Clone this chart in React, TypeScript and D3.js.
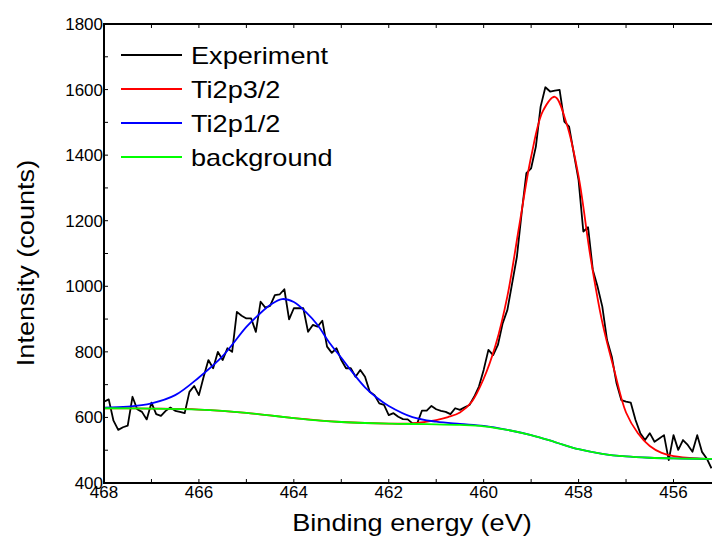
import React from "react";
import * as d3 from "d3";

// ---------- data ----------
const expStart = 468.0;
const expStep = -0.1;
const expCounts = [
  648, 655, 590, 562, 570, 575, 663, 625, 617, 594,
  645, 610, 605, 620, 630, 620, 617, 613, 678, 696,
  668, 724, 775, 750, 800, 775, 811, 800, 922, 910,
  902, 902, 861, 953, 935, 940, 973, 975, 991, 899,
  933, 933, 933, 861, 882, 877, 895, 816, 797, 811,
  775, 750, 750, 724, 745, 724, 678, 668, 643, 638,
  607, 613, 602, 595, 594, 582, 582, 621, 621, 635,
  625, 620, 617, 610, 628, 623, 631, 638, 663, 694,
  745, 806, 790, 821, 887, 928, 1009, 1090, 1223, 1345,
  1360, 1426, 1548, 1607, 1594, 1597, 1599, 1502, 1487, 1405,
  1324, 1167, 1180, 1050, 999, 938, 836, 785, 704, 653,
  648, 645, 592, 552, 531, 552, 526, 536, 546, 470,
  546, 501, 531, 516, 495, 546, 495, 475, 445,
];

const bgEnergy = [468, 467, 466, 465.5, 465, 464.5, 464, 463.5, 463, 462.5, 462, 461.5, 461, 460.5, 460, 459.5, 459, 458.5, 458, 457.5, 457, 456.5, 456, 455.5, 455];
const bgCounts = [628, 627, 624, 620, 614, 606, 598, 591, 586, 583, 581, 580, 579, 577, 573, 562, 546, 525, 503, 489, 481, 477, 475, 474, 473];

const p12Energy = [468, 467.5, 467, 466.5, 466, 465.5, 465, 464.75, 464.5, 464.25, 464, 463.75, 463.5, 463.25, 463, 462.75, 462.5, 462.25, 462, 461.5, 461, 460.5, 460, 459.5, 459, 458.5, 458, 457.5, 457, 456.5, 456, 455.5, 455];
const p12Counts = [630, 633, 643, 668, 722, 787, 876, 912, 943, 961, 952, 922, 882, 828, 782, 735, 692, 660, 635, 601, 587, 580, 574, 562, 546, 525, 503, 489, 481, 477, 475, 474, 473];

const p32Energy = [468, 467, 466, 465, 464, 463, 462, 461.5, 461, 460.75, 460.5, 460.25, 460, 459.75, 459.5, 459.25, 459, 458.75, 458.5, 458.25, 458, 457.75, 457.5, 457.25, 457, 456.75, 456.5, 456.25, 456, 455.5, 455];
const p32Counts = [628, 627, 624, 614, 598, 586, 581, 582, 592, 601, 615, 648, 718, 820, 970, 1185, 1395, 1535, 1578, 1495, 1335, 1090, 890, 745, 615, 552, 513, 492, 482, 475, 473];

const xTickLabels = [468, 466, 464, 462, 460, 458, 456];
const yTickLabels = [400, 600, 800, 1000, 1200, 1400, 1600, 1800];

const legendNames = ["Experiment", "Ti2p3/2", "Ti2p1/2", "background"];
const legendColors = ["#000000", "#ff0000", "#0000ff", "#00ff00"];

// ---------- layout ----------
const W = 712;
const H = 536;
const left = 104;
const top = 24;
const bottom = 483;
const FONT = "'Liberation Sans', Arial, Helvetica, sans-serif";

export default function App() {
  const x = d3.scaleLinear().domain([468, 456]).range([left, 673.5]);
  const y = d3.scaleLinear().domain([400, 1800]).range([bottom, top]);

  const expData: [number, number][] = expCounts.map((c, i) => [expStart + i * expStep, c]);
  const lineLin = d3
    .line<[number, number]>()
    .x((d) => x(d[0]))
    .y((d) => y(d[1]));
  const lineSmooth = d3
    .line<[number, number]>()
    .x((d) => x(d[0]))
    .y((d) => y(d[1]))
    .curve(d3.curveCatmullRom.alpha(0.5));

  const zip = (a: number[], b: number[]) => a.map((v, i) => [v, b[i]] as [number, number]);

  const minorX = d3.range(468, 454, -1);
  const minorY = d3.range(400, 1801, 100);

  const stretch = 1.13;

  return (
    <svg
      width={W}
      height={H}
      style={{ position: "absolute", left: 0, top: 0, background: "#fff" }}
      fontFamily={FONT}
    >
      <defs>
        <clipPath id="plotclip">
          <rect x={left} y={top} width={W - left} height={bottom - top} />
        </clipPath>
      </defs>
      <rect x={0} y={0} width={W} height={H} fill="#fff" />

      <g clipPath="url(#plotclip)" fill="none" strokeLinejoin="round">
        <path d={lineLin(expData) || ""} stroke="#000" strokeWidth={1.8} />
        <path d={lineSmooth(zip(p32Energy, p32Counts)) || ""} stroke="#ff0000" strokeWidth={1.8} />
        <path d={lineSmooth(zip(p12Energy, p12Counts)) || ""} stroke="#0000ff" strokeWidth={1.8} />
        <path d={lineSmooth(zip(bgEnergy, bgCounts)) || ""} stroke="#00ff00" strokeWidth={1.8} />
      </g>

      {/* axes frame */}
      <line x1={left} x2={W} y1={bottom} y2={bottom} stroke="#000" strokeWidth={2} />
      <line x1={left} x2={W} y1={top} y2={top} stroke="#000" strokeWidth={2} />
      <line x1={left} x2={left} y1={top - 1} y2={bottom + 1} stroke="#000" strokeWidth={2} />

      {/* ticks */}
      {minorX.map((v) => (
        <g key={"xt" + v}>
          <line x1={x(v)} x2={x(v)} y1={bottom} y2={bottom - 4} stroke="#000" strokeWidth={1} />
          <line x1={x(v)} x2={x(v)} y1={top} y2={top + 4} stroke="#000" strokeWidth={1} />
        </g>
      ))}
      {minorY.map((v) => (
        <line key={"yt" + v} x1={left} x2={left + 4} y1={y(v)} y2={y(v)} stroke="#000" strokeWidth={1} />
      ))}

      {/* tick labels */}
      {xTickLabels.map((v) => (
        <text key={"xl" + v} x={x(v)} y={498} fontSize={17} textAnchor="middle" fill="#000">
          {v}
        </text>
      ))}
      {yTickLabels.map((v) => (
        <text key={"yl" + v} x={103} y={y(v) + 6} fontSize={17} textAnchor="end" fill="#000">
          {v}
        </text>
      ))}

      {/* axis titles */}
      <text
        transform={`translate(${412},${531}) scale(${stretch},1)`}
        fontSize={24}
        textAnchor="middle"
        fill="#000"
      >
        Binding energy (eV)
      </text>
      <text
        transform={`translate(${34},${263}) rotate(-90) scale(${stretch},1)`}
        fontSize={24}
        textAnchor="middle"
        fill="#000"
      >
        Intensity (counts)
      </text>

      {/* legend */}
      {legendNames.map((name, i) => {
        const ly = 55 + i * 34;
        return (
          <g key={name}>
            <line x1={121} x2={182} y1={ly} y2={ly} stroke={legendColors[i]} strokeWidth={1.8} />
            <text
              transform={`translate(191,${ly + 9}) scale(${stretch},1)`}
              fontSize={24}
              fill="#000"
            >
              {name}
            </text>
          </g>
        );
      })}
    </svg>
  );
}
